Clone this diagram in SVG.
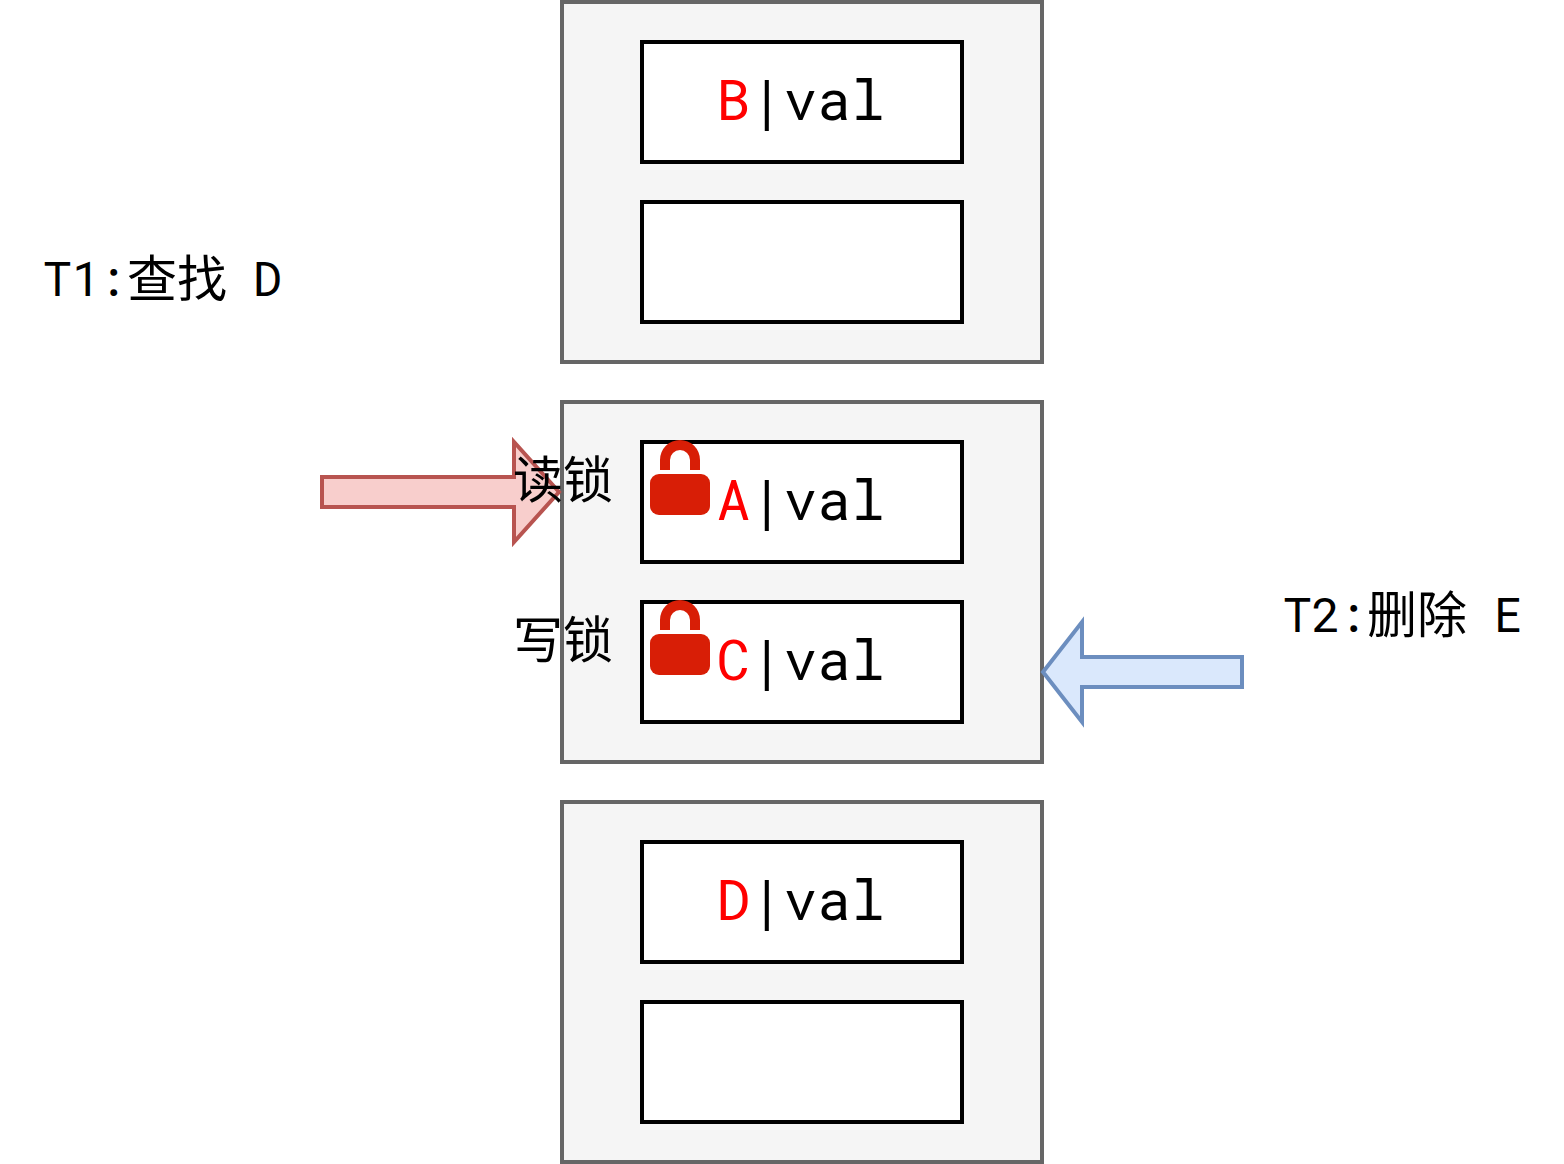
<svg xmlns="http://www.w3.org/2000/svg" width="1564" height="1164" viewBox="0 0 1564 1164">
<style>
.box{fill:#f5f5f5;stroke:#666;stroke-width:4}
.in{fill:#fff;stroke:#000;stroke-width:4}
text{font-family:"Roboto Mono","DejaVu Sans Mono","Liberation Mono","Noto Sans CJK SC",monospace;font-size:48px;fill:#000}
.v{font-size:56px;text-anchor:middle}
.k{fill:#f00}
.cjk{font-family:"Noto Sans CJK SC",sans-serif;font-size:50px}
.lock{fill:#d81e06}
</style>
<defs><g id="padlock"><path class="lock" d="M660 470V460a20 20 0 0 1 40 0V470H690V460a10 10 0 0 0-20 0V470Z"/><rect class="lock" x="650" y="474" width="60" height="41" rx="9"/></g></defs>
<rect width="1564" height="1164" fill="#fff"/>
<g id="page1"><rect class="box" x="562" y="2" width="480" height="360"/><rect class="in" x="642" y="42" width="320" height="120"/><rect class="in" x="642" y="202" width="320" height="120"/>
<text class="v" x="800.5" y="120"><tspan class="k">B</tspan>|val</text></g>
<g id="page2"><rect class="box" x="562" y="402" width="480" height="360"/><rect class="in" x="642" y="442" width="320" height="120"/><rect class="in" x="642" y="602" width="320" height="120"/>
<text class="v" x="800.5" y="520"><tspan class="k">A</tspan>|val</text>
<text class="v" x="800.5" y="680"><tspan class="k">C</tspan>|val</text></g>
<g id="page3"><rect class="box" x="562" y="802" width="480" height="360"/><rect class="in" x="642" y="842" width="320" height="120"/><rect class="in" x="642" y="1002" width="320" height="120"/>
<text class="v" x="800.5" y="920"><tspan class="k">D</tspan>|val</text></g>
<g id="connectors">
<path d="M322 477H514V442L559 492L514 542V507H322Z" fill="#f8cecc" stroke="#b85450" stroke-width="4"/>
<path d="M1242 657H1082V622L1043 672L1082 722V687H1242Z" fill="#dae8fc" stroke="#6c8ebf" stroke-width="4"/>
</g>
<g id="lock1"><use href="#padlock"/></g>
<g id="lock2"><use href="#padlock" y="160"/></g>
<g id="t1"><text x="43" y="296">T1<tspan dx="-3">:</tspan></text><text class="cjk" x="127" y="297">查找</text><text x="253" y="296">D</text></g>
<g id="t2"><text x="1283" y="632">T2<tspan dx="-3">:</tspan></text><text class="cjk" x="1367" y="633">删除</text><text x="1494" y="632">E</text></g>
<g id="rl"><text class="cjk" x="513" y="498">读锁</text></g>
<g id="wl"><text class="cjk" x="513" y="658">写锁</text></g>
</svg>
